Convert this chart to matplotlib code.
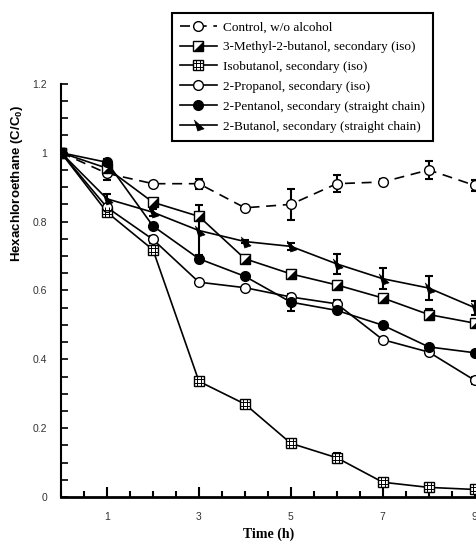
import matplotlib
matplotlib.use("Agg")
import matplotlib.pyplot as plt
from matplotlib.path import Path
from matplotlib.ticker import MultipleLocator, FixedLocator, FuncFormatter

# data
time = [0, 1, 2, 3, 4, 5, 6, 7, 8, 9]
control = [1.0, 0.94, 0.91, 0.91, 0.84, 0.85, 0.91, 0.915, 0.95, 0.905]
control_err = [0.01, 0.02, 0.005, 0.015, 0.005, 0.045, 0.025, 0.01, 0.025, 0.015]
methyl = [1.0, 0.955, 0.856, 0.815, 0.692, 0.648, 0.616, 0.578, 0.530, 0.505]
methyl_err = [0.01, 0.01, 0.01, 0.01, 0.01, 0.01, 0.01, 0.01, 0.015, 0.01]
isobut = [1.0, 0.827, 0.718, 0.336, 0.270, 0.156, 0.114, 0.043, 0.028, 0.022]
isobut_err = [0.01, 0.005, 0.01, 0.005, 0.005, 0.005, 0.015, 0.005, 0.005, 0.005]
propanol = [1.0, 0.841, 0.748, 0.624, 0.608, 0.581, 0.561, 0.457, 0.421, 0.339]
propanol_err = [0.01, 0.01, 0.01, 0.005, 0.005, 0.005, 0.01, 0.005, 0.005, 0.01]
pentanol = [1.0, 0.972, 0.787, 0.692, 0.641, 0.566, 0.542, 0.499, 0.436, 0.419]
pentanol_err = [0.01, 0.01, 0.01, 0.01, 0.005, 0.025, 0.005, 0.005, 0.005, 0.005]
butanol = [1.0, 0.866, 0.827, 0.774, 0.742, 0.728, 0.677, 0.634, 0.607, 0.550]
butanol_err = [0.01, 0.015, 0.01, 0.075, 0.005, 0.01, 0.03, 0.03, 0.035, 0.02]

labels = ["Control, w/o alcohol",
          "3-Methyl-2-butanol, secondary (iso)",
          "Isobutanol, secondary (iso)",
          "2-Propanol, secondary (iso)",
          "2-Pentanol, secondary (straight chain)",
          "2-Butanol, secondary (straight chain)"]

plt.rcParams['mathtext.default'] = 'regular'

fig = plt.figure(figsize=(4.77, 5.48), dpi=100)
ax = fig.add_axes([0.128, 0.093, 0.872, 0.754])

ms = 7
lw = 1.2
eb = dict(fmt='none', ecolor='black', elinewidth=1.5, capsize=3, capthick=1.5, zorder=2)

half_tri = [(1, 1), (1, -1), (-1, -1)]
grid = Path([(-1/3, -1), (-1/3, 1), (1/3, -1), (1/3, 1),
             (-1, -1/3), (1, -1/3), (-1, 1/3), (1, 1/3)],
            [Path.MOVETO, Path.LINETO] * 4)
tri = [(-0.8, 1), (1, -0.6), (-0.2, -1)]

ax.errorbar(time, control, yerr=control_err, **eb)
ax.errorbar(time, methyl, yerr=methyl_err, **eb)
ax.errorbar(time, isobut, yerr=isobut_err, **eb)
ax.errorbar(time, propanol, yerr=propanol_err, **eb)
ax.errorbar(time, pentanol, yerr=pentanol_err, **eb)
ax.errorbar(time, butanol, yerr=butanol_err, **eb)

h1, = ax.plot(time, control, color='black', lw=lw, ls=(0, (6, 4)), marker='o',
              ms=ms, mfc='white', mec='black', mew=1, zorder=3)
h2a, = ax.plot(time, methyl, color='black', lw=lw, marker='s', ms=ms,
               mfc='white', mec='black', mew=1, zorder=3)
h2b, = ax.plot(time, methyl, ls='none', marker=half_tri, ms=ms,
               mfc='black', mec='black', mew=0.5, zorder=4)
h3a, = ax.plot(time, isobut, color='black', lw=lw, marker='s', ms=ms,
               mfc='white', mec='black', mew=1, zorder=3)
h3b, = ax.plot(time, isobut, ls='none', marker=grid, ms=ms,
               mfc='none', mec='black', mew=0.7, zorder=4)
h4, = ax.plot(time, propanol, color='black', lw=lw, marker='o', ms=ms,
              mfc='white', mec='black', mew=1, zorder=3)
h5, = ax.plot(time, pentanol, color='black', lw=lw, marker='o', ms=ms,
              mfc='black', mec='black', mew=1, zorder=3)
h6, = ax.plot(time, butanol, color='black', lw=lw, marker=tri, ms=ms + 1,
              mfc='black', mec='black', mew=0.5, zorder=3)

ax.set_xlim(0, 9.05)
ax.set_ylim(0, 1.2)
ax.xaxis.set_major_locator(FixedLocator([1, 3, 5, 7, 9]))
ax.xaxis.set_minor_locator(MultipleLocator(0.5))
ax.yaxis.set_major_locator(MultipleLocator(0.2))
ax.yaxis.set_minor_locator(MultipleLocator(0.05))
ax.yaxis.set_major_formatter(FuncFormatter(lambda v, p: '%g' % round(v, 2)))

ax.spines['top'].set_visible(False)
ax.spines['right'].set_visible(False)
ax.spines['left'].set_linewidth(1.5)
ax.spines['bottom'].set_linewidth(2)
ax.tick_params(axis='x', which='major', direction='in', length=7, width=1.5, pad=11,
               labelsize=7.5, labelcolor='#333333')
ax.tick_params(axis='x', which='minor', direction='in', length=4, width=1.5)
ax.tick_params(axis='y', which='major', direction='in', length=5, width=1.2, pad=10,
               labelsize=7.5, labelcolor='#333333')
ax.tick_params(axis='y', which='minor', direction='in', length=5, width=1.2)
for t in ax.get_xticklabels() + ax.get_yticklabels():
    t.set_family('Liberation Sans')

ax.set_xlabel('Time (h)', family='Liberation Serif', fontweight='bold', fontsize=10, labelpad=4)
fig.text(17 / 477, 1 - 183 / 548, 'Hexachloroethane (C/C$_0$)', rotation=90,
         ha='center', va='center', family='Liberation Sans', fontweight='bold', fontsize=9.5)

leg = fig.legend([h1, (h2a, h2b), (h3a, h3b), h4, h5, h6], labels,
                 loc='upper right', bbox_to_anchor=(0.908, 0.976),
                 prop={'family': 'Liberation Serif', 'size': 9.5},
                 frameon=True, fancybox=False, edgecolor='black', framealpha=1,
                 handlelength=2.8, handletextpad=0.5, labelspacing=0.58,
                 borderpad=0.6, borderaxespad=0)
leg.get_frame().set_linewidth(1.5)

fig.savefig('out.png', dpi=100)
